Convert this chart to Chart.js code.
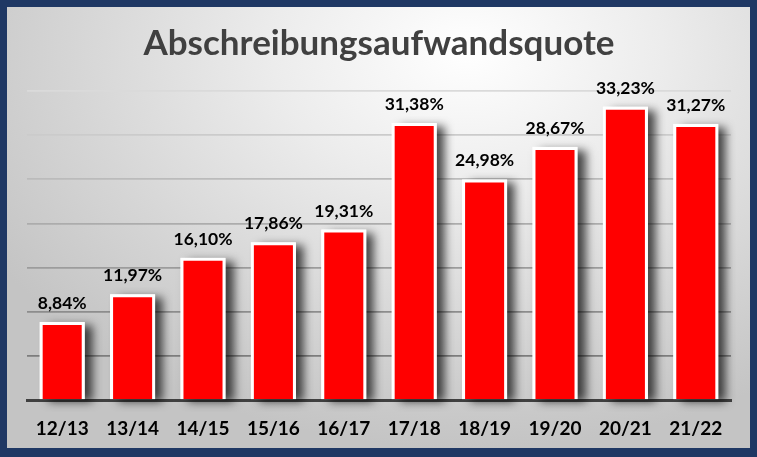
<!DOCTYPE html>
<html>
<head>
<meta charset="utf-8">
<script src="https://cdn.jsdelivr.net/npm/chart.js@4"></script>
<style>
  html, body { margin: 0; padding: 0; background: #1f3864; }
  #frame {
    position: absolute; left: 0; top: 0;
    width: 743px; height: 441px;
    border-style: solid; border-color: #1f3864;
    border-width: 7px 7px 9px 7px;
    background: radial-gradient(ellipse 75% 90% at 62% 10%, #ffffff 0%, #ececec 35%, #d6d6d6 70%, #c4c4c4 100%);
  }
  canvas { display: block; }
</style>
</head>
<body>
<div id="frame"><canvas id="chart" width="743" height="441"></canvas></div>
<script>
var jahre = ['12/13', '13/14', '14/15', '15/16', '16/17', '17/18', '18/19', '19/20', '20/21', '21/22'];
var quote = [8.84, 11.97, 16.10, 17.86, 19.31, 31.38, 24.98, 28.67, 33.23, 31.27];
var yTicks = [0, 5, 10, 15, 20, 25, 30, 35];

function fmt(v) {
  return v.toFixed(2).replace('.', ',') + '%';
}

// Schatten hinter den Balken
var schatten = {
  id: 'schatten',
  beforeDatasetsDraw: function(chart) {
    var ctx = chart.ctx;
    var meta = chart.getDatasetMeta(0);
    ctx.save();
    ctx.shadowColor = 'rgba(0,0,0,0.7)';
    ctx.shadowBlur = 9;
    ctx.shadowOffsetX = 8;
    ctx.shadowOffsetY = 3;
    ctx.fillStyle = '#ffffff';
    meta.data.forEach(function(bar) {
      ctx.fillRect(bar.x - bar.width / 2, bar.y, bar.width, bar.base - bar.y);
    });
    ctx.restore();
  }
};

// Werte ueber den Balken
var werte = {
  id: 'werte',
  afterDatasetsDraw: function(chart) {
    var ctx = chart.ctx;
    var meta = chart.getDatasetMeta(0);
    ctx.save();
    ctx.font = 'bold 17.5px Lato';
    ctx.fillStyle = '#000000';
    ctx.textAlign = 'center';
    ctx.textBaseline = 'alphabetic';
    meta.data.forEach(function(bar, i) {
      ctx.fillText(fmt(quote[i]), bar.x, bar.y - 13);
    });
    ctx.restore();
  }
};

function gridFarbe(v) {
  if (v === 0) return 'rgba(0,0,0,0)';
  var t = (v - 5) / 30;
  var c = Math.round(125 + t * (218 - 125));
  return 'rgb(' + c + ',' + c + ',' + c + ')';
}

new Chart(document.getElementById('chart'), {
  type: 'bar',
  data: {
    labels: jahre,
    datasets: [{
      data: quote,
      backgroundColor: '#ff0000',
      borderColor: '#ffffff',
      borderWidth: 3,
      borderSkipped: 'bottom',
      categoryPercentage: 1,
      barPercentage: 0.64
    }]
  },
  options: {
    responsive: false,
    animation: false,
    layout: { padding: { left: 20, right: 19, top: 0, bottom: 0 } },
    plugins: {
      legend: { display: false },
      tooltip: { enabled: false },
      title: {
        display: true,
        text: 'Abschreibungsaufwandsquote',
        color: '#404040',
        font: { family: 'Lato', size: 35, weight: 'bold' },
        padding: { top: 16, bottom: 26 }
      }
    },
    scales: {
      x: {
        grid: { display: false, drawTicks: false },
        border: { display: true, color: '#404040', width: 3 },
        afterFit: function(axis) { axis.height = 48; },
        ticks: {
          color: '#000000',
          padding: 17,
          font: { family: 'Lato', size: 19, weight: 'bold' }
        }
      },
      y: {
        min: 0,
        max: 35,
        afterBuildTicks: function(axis) {
          axis.ticks = yTicks.map(function(v) { return { value: v }; });
        },
        grid: {
          drawTicks: false,
          lineWidth: 1.8,
          color: function(ctx) { return gridFarbe(ctx.tick.value); }
        },
        border: { display: false },
        ticks: { display: false }
      }
    }
  },
  plugins: [schatten, werte]
});
</script>
</body>
</html>
